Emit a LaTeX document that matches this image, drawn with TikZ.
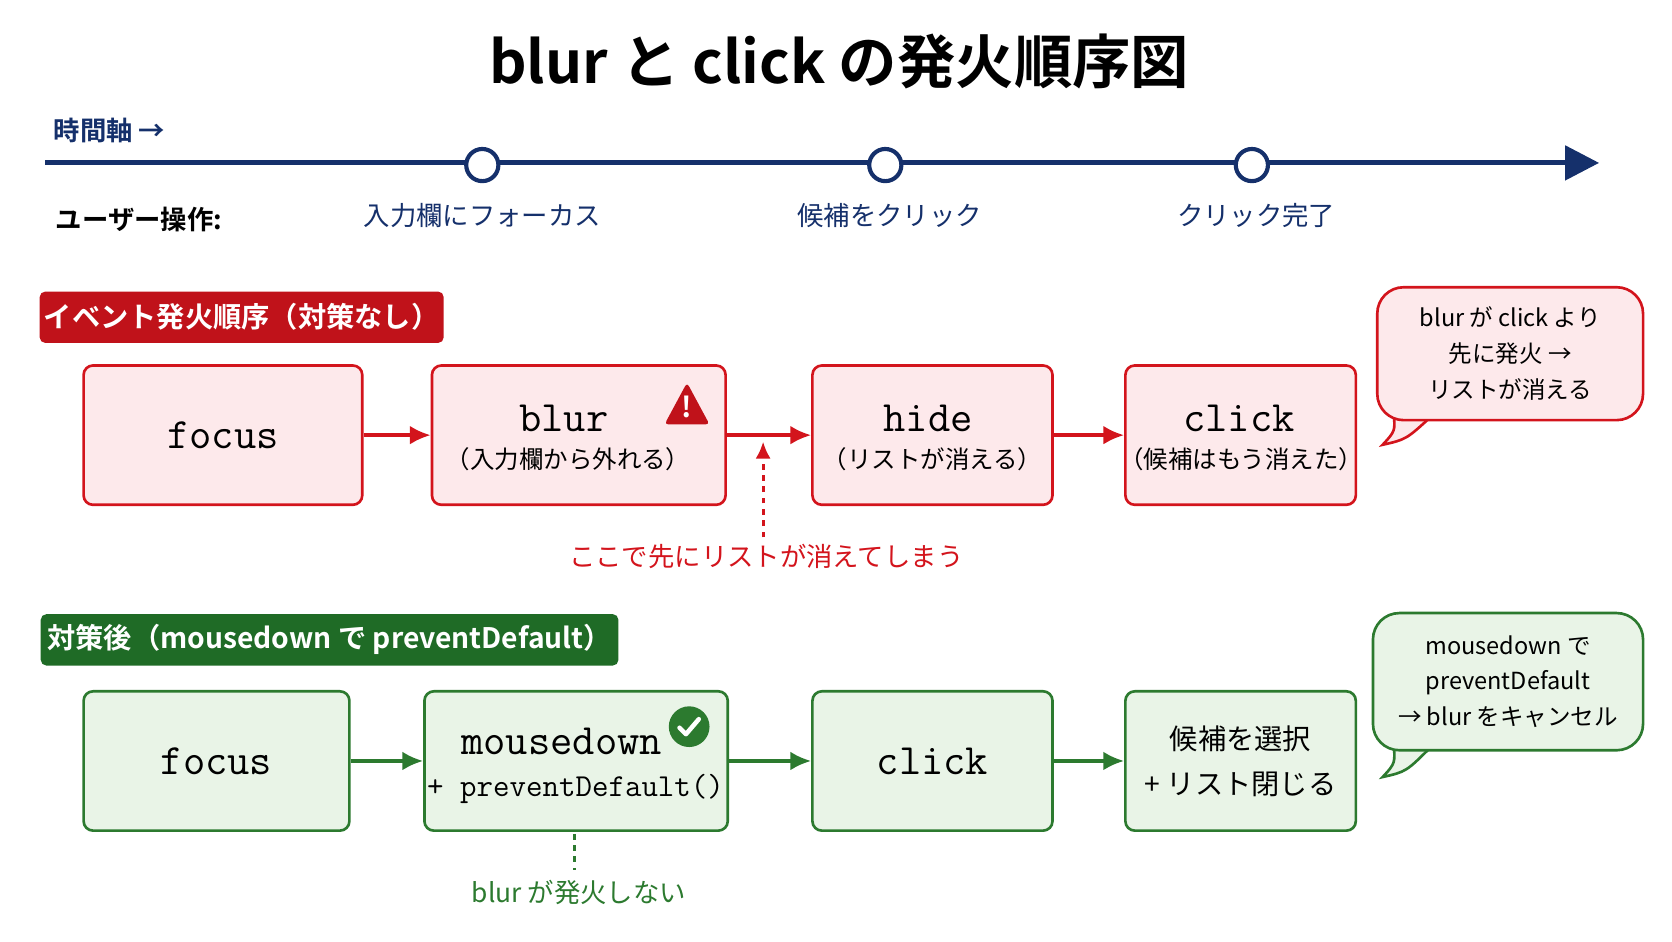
\documentclass[tikz,border=0pt]{standalone}
\usepackage{fontspec}
\setmainfont{Noto Sans CJK JP}
\newfontfamily\jpbold{Noto Sans CJK JP Bold}
\usetikzlibrary{arrows.meta, positioning}
\definecolor{navy}{HTML}{15306B}
\definecolor{ngred}{HTML}{D3141C}
\definecolor{ngfill}{HTML}{FDE9EB}
\definecolor{okgreen}{HTML}{2C7A2F}
\definecolor{okfill}{HTML}{E9F4E7}
\definecolor{hdred}{HTML}{C0121A}
\definecolor{hdgreen}{HTML}{1F6B26}
\newcommand{\unitpx}{0.02cm}

\begin{document}
\begin{tikzpicture}[x=0.02cm, y=-0.02cm,
  evtbox/.style={draw, rounded corners=5pt, line width=1.4pt, align=center, inner sep=0pt, minimum height=130*\unitpx},
  ngbox/.style={evtbox, draw=ngred, fill=ngfill},
  okbox/.style={evtbox, draw=okgreen, fill=okfill},
  evtname/.style={font=\ttfamily\fontsize{23}{26}\selectfont},
  evtnote/.style={font=\fontsize{13}{18}\selectfont},
  sechead/.style={rounded corners=3pt, text=white, inner sep=0pt, minimum height=48*\unitpx, font=\jpbold\fontsize{15}{18}\selectfont},
  bubble/.style={evtbox, rounded corners=14pt, font=\fontsize{12.5}{19}\selectfont},
  flow/.style={-{Latex[length=11pt,width=10pt]}, line width=1.8pt},
  tlmark/.style={circle, draw=navy, fill=white, line width=2.2pt, minimum size=30*\unitpx, inner sep=0pt}]
\useasboundingbox (0,0) rectangle (1560,878);

% TITLE
\node[font=\jpbold\fontsize{31}{36}\selectfont] (title) at (783,57) {blur と click の発火順序図};

% TIMELINE
\node[anchor=west, font=\jpbold\fontsize{14}{16}\selectfont, text=navy] (axis) at (44,122) {時間軸 →};
\coordinate (tl0) at (42,152);
\coordinate (tl1) at (1492,152);
\draw[navy, line width=2.6pt, -{Triangle[length=18pt,width=18pt]}] (tl0) -- (tl1);
\foreach \x/\n in {450/a, 826/b, 1168/c}
  \node[tlmark] (m\n) at (\x,154) {};
\node[anchor=west, font=\jpbold\fontsize{14}{16}\selectfont] (user) at (46,205) {ユーザー操作:};
\node[text=navy, font=\fontsize{14}{16}\selectfont] (ua) at (450,201) {入力欄にフォーカス};
\node[text=navy, font=\fontsize{14}{16}\selectfont] (ub) at (830,201) {候補をクリック};
\node[text=navy, font=\fontsize{14}{16}\selectfont] (uc) at (1172,201) {クリック完了};

% WITHOUT FIX
\node[sechead, fill=hdred, minimum width=377*\unitpx] (hNG) at (225.5,296) {イベント発火順序（対策なし）};
\node[ngbox, minimum width=260*\unitpx] (nFocus) at (208,406) {};
\node[evtname] at (nFocus) {focus};
\node[ngbox, minimum width=274*\unitpx] (nBlur) at (540,406) {};
\node[evtname] at (526,390) {blur};
\node[evtnote] at (530,428) {（入力欄から外れる）};
\node[ngbox, minimum width=224*\unitpx] (nHide) at (870,406) {};
\node[evtname] at (866,390) {hide};
\node[evtnote] at (870,428) {（リストが消える）};
\node[ngbox, minimum width=215*\unitpx] (nClick) at (1157.5,406) {};
\node[evtname] at (1156,390) {click};
\node[evtnote] at (1158,428) {（候補はもう消えた）};
% warning sign
\fill[hdred, rounded corners=2pt] (641,357) -- (662,396) -- (620,396) -- cycle;
\node[text=white, font=\jpbold\fontsize{15}{15}\selectfont] (warn) at (641,380) {!};
\foreach \a/\b in {nFocus/nBlur, nBlur/nHide, nHide/nClick}
  \draw[flow, ngred] (\a) -- (\b);
\node[text=ngred, font=\fontsize{14}{16}\selectfont] (nNote) at (715,519) {ここで先にリストが消えてしまう};
\coordinate (nTip) at (712,412);
\draw[ngred, line width=1.6pt, dashed, -{Latex[length=9pt,width=8pt]}] (nNote.north -| nTip) -- (nTip);
% callout
\filldraw[draw=ngred, fill=ngfill, line width=1.4pt] (1300,384) .. controls (1302,402) .. (1290,415) .. controls (1312,410) .. (1336,388);
\node[bubble, draw=ngred, fill=ngfill, minimum width=248*\unitpx, minimum height=124*\unitpx] (nCall) at (1409,330) {blur が click より\\先に発火 →\\リストが消える};

% WITH FIX
\node[sechead, fill=hdgreen, minimum width=539*\unitpx] (hOK) at (307.5,597) {対策後（mousedown で preventDefault）};
\node[okbox, minimum width=248*\unitpx] (gFocus) at (202,710) {};
\node[evtname] at (gFocus) {focus};
\node[okbox, minimum width=283*\unitpx] (gDown) at (537.5,710) {};
\node[evtname] at (524,692) {mousedown};
\node[font=\ttfamily\fontsize{17}{20}\selectfont] at (537,736) {+ preventDefault()};
\node[okbox, minimum width=224*\unitpx] (gClick) at (870,710) {};
\node[evtname] at (gClick) {click};
\node[okbox, minimum width=215*\unitpx, font=\fontsize{15}{24}\selectfont] (gPick) at (1157.5,710) {候補を選択\\+ リスト閉じる};
% check mark
\node[circle, fill=okgreen, minimum size=38*\unitpx, inner sep=0pt] (check) at (643,678) {};
\draw[white, line width=2.4pt, line cap=round, line join=round] ([shift={(-9,1)}]check.center) -- ([shift={(-3,7)}]check.center) -- ([shift={(9,-7)}]check.center);
\foreach \a/\b in {gFocus/gDown, gDown/gClick, gClick/gPick}
  \draw[flow, okgreen] (\a) -- (\b);
\node[text=okgreen, font=\fontsize{14}{16}\selectfont] (gNote) at (540,833) {blur が発火しない};
\draw[okgreen, line width=1.6pt, dashed] (536,778) -- (536,812);
% callout
\filldraw[draw=okgreen, fill=okfill, line width=1.4pt] (1300,692) .. controls (1302,712) .. (1290,725) .. controls (1312,720) .. (1336,696);
\node[bubble, draw=okgreen, fill=okfill, minimum width=252*\unitpx, minimum height=128*\unitpx] (gCall) at (1407,636) {mousedown で\\preventDefault\\→ blur をキャンセル};

\end{tikzpicture}
\end{document}
